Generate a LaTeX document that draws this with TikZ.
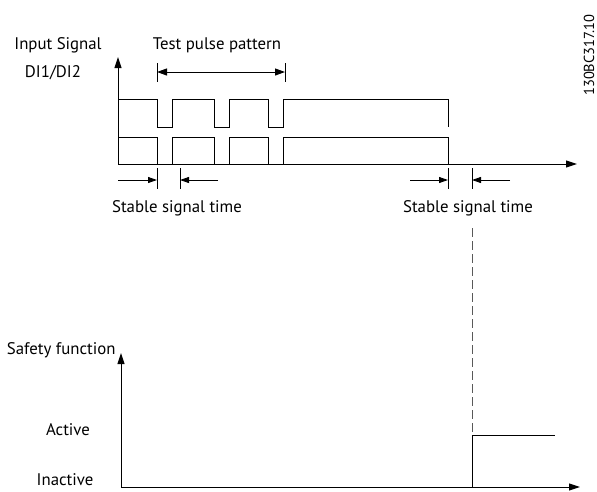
\documentclass[tikz,border=0pt]{standalone}
\usepackage{fontspec}
\setmainfont{PT Sans}
\usetikzlibrary{arrows.meta,positioning}

\begin{document}
\begin{tikzpicture}[x=1pt,y=-1pt,line width=1pt,>={Triangle[length=11pt,width=7pt]}]
\tikzset{lbl/.style = {font=\fontsize{16.8}{19}\selectfont,inner sep=0pt},
         tick/.style = {line width=0.9pt},
         dimarrow/.style = {->,>={Triangle[length=9pt,width=6pt]},line width=0.9pt}}
\useasboundingbox (0,0) rectangle (597,491);

% input signal axes
\coordinate (O1) at (118,164);
\draw[->] (O1) -- (118,57) coordinate (Y1);
\draw[->] (O1) -- (577,164) coordinate (X1);
\node[lbl] (insig) at (58,45) {Input Signal};
\node[lbl] (didi) at (53,73) {DI1/DI2};

% two channels with test pulses
\draw (118,99) \foreach \p in {157,214,268}{ -- (\p,99) -- (\p,127) -- (\p+15,127) -- (\p+15,99)}
      -- (448,99) -- (448,127);
\draw (118,137) \foreach \p in {157,214,268}{ -- (\p,137) -- (\p,164) -- (\p+15,164) -- (\p+15,137)}
      -- (448,137) -- (448,164);

% test pulse pattern
\coordinate (tpA) at (157,72);
\coordinate (tpB) at (285,72);
\draw[tick] (157,63) -- (157,82) (285,63) -- (285,82);
\draw[<->,>={Triangle[length=10pt,width=7pt]}] (tpA) -- (tpB);
\node[lbl] (tpp) at (217,45) {Test pulse pattern};

% stable signal time, left and right
\draw[tick] (157,168) -- (157,189) (180,168) -- (180,189);
\coordinate (sl1) at (157,180);
\coordinate (sl2) at (180,180);
\draw[dimarrow] (118,180) -- (sl1);
\draw[dimarrow] (218,180) -- (sl2);
\node[lbl] (sst1) at (177,208) {Stable signal time};

\draw[tick] (448,168) -- (448,189) (472,168) -- (472,189);
\coordinate (sr1) at (448,180);
\coordinate (sr2) at (472,180);
\draw[dimarrow] (410,180) -- (sr1);
\draw[dimarrow] (510,180) -- (sr2);
\node[lbl] (sst2) at (468,208) {Stable signal time};

% safety function axes
\coordinate (O2) at (121,487);
\draw[->] (O2) -- (121,353) coordinate (Y2);
\draw[->] (O2) -- (580,487) coordinate (X2);
\node[lbl,anchor=east] (safe) at (116,350) {Safety function};
\node[lbl] (act) at (68,430) {Active};
\node[lbl] (inact) at (65,480) {Inactive};

% response
\coordinate (sw) at (472,435);
\draw[dashed,dash pattern=on 9pt off 4pt,black!65] (472,228) -- (sw);
\draw (472,487) -- (sw) -- (555,435);

\node[font=\fontsize{14.5}{16}\selectfont,rotate=90,inner sep=0pt] (code) at (589,55) {130BC317.10};
\end{tikzpicture}
\end{document}
